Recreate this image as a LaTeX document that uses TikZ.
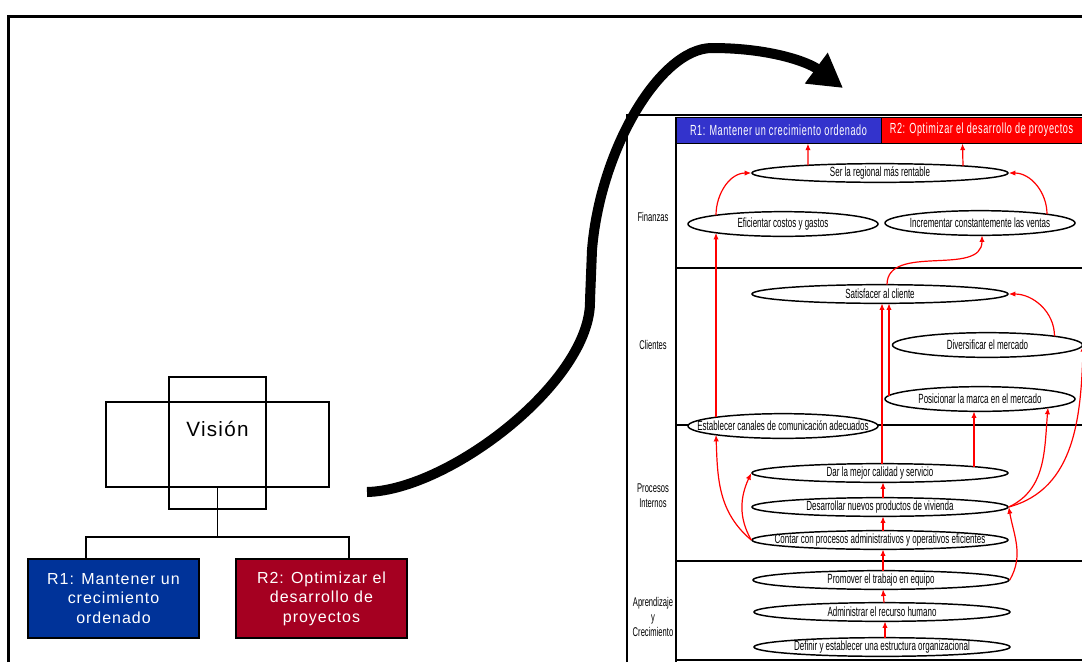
\documentclass[tikz,border=0pt]{standalone}
\usepackage{fontspec}
\setmainfont{Liberation Sans}
\newfontfamily\angosta[FakeStretch=0.6]{Liberation Sans}
\newfontfamily\cabecera[FakeStretch=0.62,LetterSpace=4]{Liberation Sans}
\newfontfamily\espaciada[LetterSpace=6]{Liberation Sans}
\usetikzlibrary{shapes,arrows.meta}

\definecolor{azulcab}{HTML}{3333CC}
\definecolor{rojocab}{HTML}{FF0000}
\definecolor{azulr}{HTML}{003399}
\definecolor{rojor}{HTML}{A50021}

\tikzset{
        objetivo/.style={draw, ellipse, fill=white, line width=1.1pt, inner xsep=-40pt, inner ysep=-2pt,
                font={\angosta\fontsize{10pt}{12pt}\selectfont}},
        objlargo/.style={objetivo, minimum width=192pt, minimum height=14pt},
        objcorto/.style={objetivo, minimum width=142.5pt, minimum height=18.5pt},
        flecha/.style={red, line width=0.9pt, -{Latex[length=5pt,width=4pt]}},
        encabezado/.style={draw, line width=0.75pt, text=white, minimum height=19.5pt, inner sep=0pt,
                font={\cabecera\fontsize{11pt}{13pt}\selectfont}},
        perspectiva/.style={align=center, font={\angosta\fontsize{9.5pt}{11.5pt}\selectfont}},
        caja/.style={draw, line width=1pt, text=white, align=center, minimum width=128.25pt,
                minimum height=59.25pt, font={\espaciada\fontsize{12pt}{14.6pt}\selectfont}},
        marco/.style={draw, line width=1.5pt, inner sep=0pt},
        enlace/.style={line width=1.1pt}
}

\begin{document}
\begin{tikzpicture}[x=0.75pt, y=-0.75pt]
        \useasboundingbox (0,0) rectangle (1082,662);

        \draw [line width=2.25pt] (8,662) -- (8,16) -- (1082,16);

        \node [marco, minimum width=167.25pt, minimum height=63.75pt] (visionh) at (217.5,444.5) {};
        \node [marco, minimum width=72.75pt, minimum height=99pt] (visionv) at (217.5,443) {};
        \node [font={\espaciada\fontsize{15.5pt}{18pt}\selectfont}] (vision) at (217.5,429) {Visión};

        \node [caja, fill=azulr] (r1) at (113.5,598.5) {R1: Mantener un\\crecimiento\\ordenado};
        \node [caja, fill=rojor] (r2) at (321.5,598.5) {R2: Optimizar el\\desarrollo de\\proyectos};

        \coordinate (rama) at (217.5,537);
        \draw [enlace] (visionh.south) -- (rama) -| ([xshift=-20.6pt]r1.north);
        \draw [enlace] (rama) -| ([xshift=20.6pt]r2.north);

        \draw [line width=1.5pt] (627,662) -- (627,115) -- (1082,115);
        \draw [line width=1pt] (676,117) -- (676,662);
        \draw [line width=1.5pt] (677,268) -- (1082,268);
        \draw [line width=1.5pt] (677,425) -- (1082,425);
        \draw [line width=1.5pt] (677,561) -- (1082,561);
        \draw [line width=1pt] (677,660) -- (1082,660);

        \node [encabezado, fill=azulcab, minimum width=153.75pt] (r1h) at (778.5,130) {R1: Mantener un crecimiento ordenado};
        \node [encabezado, fill=rojocab, minimum width=150.75pt] (r2h) at (981.5,130) {R2: Optimizar el desarrollo de proyectos};

        \node [perspectiva] (finanzas) at (653,217) {Finanzas};
        \node [perspectiva] (clientes) at (653,345) {Clientes};
        \node [perspectiva] (procesos) at (653,496) {Procesos\\Internos};
        \node [perspectiva] (aprendizaje) at (653,617) {Aprendizaje\\y\\Crecimiento};

        \node [objlargo] (ser) at (880,173) {Ser la regional más rentable};
        \node [objcorto] (efic) at (783,224) {Eficientar costos y gastos};
        \node [objcorto] (incr) at (980,223) {Incrementar constantemente las ventas};
        \node [objlargo] (satis) at (880,294) {Satisfacer al cliente};
        \node [objcorto] (divers) at (987.5,345) {Diversificar el mercado};
        \node [objcorto] (posic) at (980,399) {Posicionar la marca en el mercado};
        \node [objcorto] (establ) at (783,426) {Establecer canales de comunicación adecuados};
        \node [objlargo] (calidad) at (880,473) {Dar la mejor calidad y servicio};
        \node [objlargo] (desarr) at (880,507) {Desarrollar nuevos productos de vivienda};
        \node [objlargo] (contar) at (880,540) {Contar con procesos administrativos y operativos eficientes};
        \node [objlargo] (promov) at (881,580) {Promover el trabajo en equipo};
        \node [objlargo] (admin) at (882,612) {Administrar el recurso humano};
        \node [objlargo] (defin) at (882,647) {Definir y establecer una estructura organizacional};

        \draw [flecha] ([shift={(-72,-7.7)}]ser.center) -- ([xshift=22.1pt]r1h.south);
        \draw [flecha] ([shift={(83,-7.1)}]ser.center) -- ([xshift=-14.25pt]r2h.south);
        \draw [flecha] ([shift={(-67,-8.75)}]efic.center) to[out=90, in=180] (ser.west);
        \draw [flecha] ([shift={(67,-8.75)}]incr.center) to[out=90, in=0] (ser.east);
        \draw [flecha] ([shift={(-67,-8.75)}]establ.center) -- ([shift={(-67,8.75)}]efic.center);
        \draw [flecha] ([shift={(7,-9.3)}]satis.center) to[out=90, in=-90] ([shift={(2,12.3)}]incr.center);
        \draw [flecha] ([shift={(2,-9.3)}]calidad.center) -- ([shift={(2,9.3)}]satis.center);
        \draw [flecha] ([shift={(-91,-3.5)}]posic.center) -- ([shift={(9,9.3)}]satis.center);
        \draw [flecha] ([shift={(67,-8.75)}]divers.center) to[out=90, in=0] (satis.east);
        \draw [flecha] ([shift={(94,-6.3)}]calidad.center) -- ([shift={(-6,12.3)}]posic.center);
        \draw [flecha] (desarr.east) to[out=25, in=-95] ([shift={(68,8.6)}]posic.center);
        \draw [flecha] (desarr.east) to[out=15, in=-92] (divers.east);
        \draw [flecha] ([shift={(3,-9.3)}]desarr.center) -- ([shift={(3,9.3)}]calidad.center);
        \draw [flecha] ([shift={(3,-9.3)}]contar.center) -- ([shift={(3,9.3)}]desarr.center);
        \draw [flecha] (contar.west) to[out=120, in=-115] (calidad.west);
        \draw [flecha] (contar.west) to[out=140, in=-88] ([shift={(-67,8.75)}]establ.center);
        \draw [flecha] ([shift={(2,-9.3)}]promov.center) -- ([shift={(3,9.3)}]contar.center);
        \draw [flecha] (promov.east) to[out=60, in=-80] (desarr.east);
        \draw [flecha] ([shift={(2,-9.3)}]admin.center) -- ([shift={(2,9.3)}]promov.center);
        \draw [flecha] ([shift={(3,-9.3)}]defin.center) -- ([shift={(3,9.3)}]admin.center);

        \draw [line width=7.5pt, -{Triangle[length=25pt, width=27pt]}] (367,492)
                .. controls (450,490) and (592,380) .. (590,300) -- (592,250)
                .. controls (600,150) and (660,48) .. (712,48)
                .. controls (770,48) and (808,62) .. (843,88);
\end{tikzpicture}
\end{document}
